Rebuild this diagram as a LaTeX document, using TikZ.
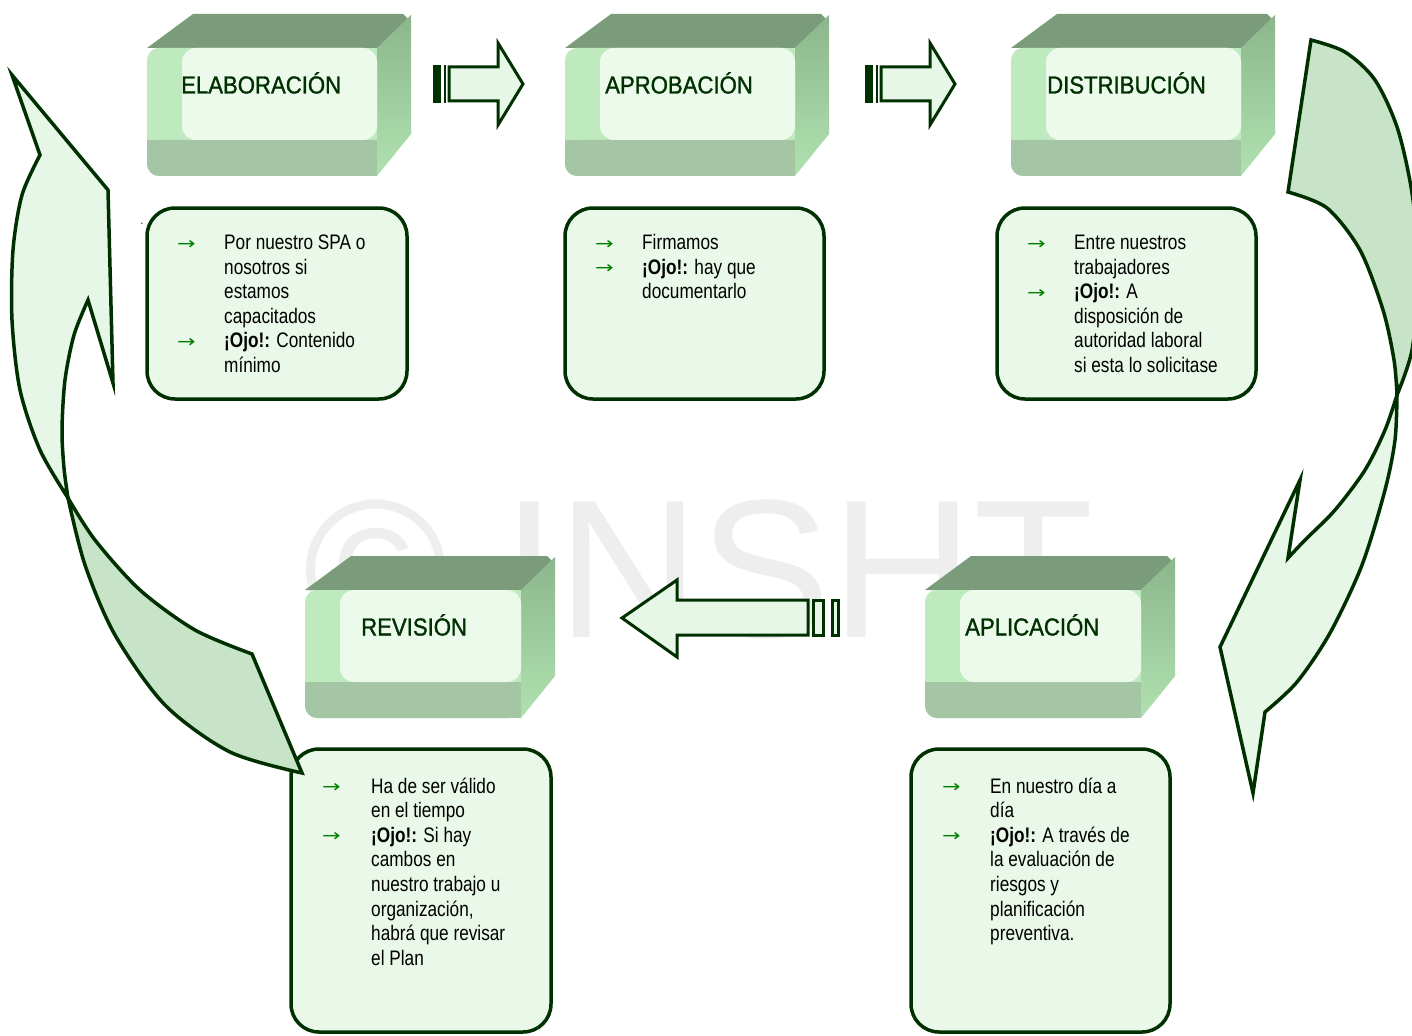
\documentclass[tikz,border=0pt]{standalone}
\usepackage{fontspec}
\setmainfont[FakeStretch=0.82]{Liberation Sans}
\newfontfamily\titlef[FakeStretch=0.9,FakeBold=1.2]{Liberation Sans}
\newfontfamily\wmfont{Liberation Sans}
\newfontfamily\symf{DejaVu Sans}
\definecolor{dkgreen}{RGB}{0,48,0}
\definecolor{outl}{RGB}{0,48,0}
\definecolor{bulg}{RGB}{0,128,0}
\definecolor{boxfill}{RGB}{233,248,233}
\definecolor{topface}{RGB}{123,156,123}
\definecolor{sidetop}{RGB}{140,182,140}
\definecolor{sideface}{RGB}{176,225,176}
\definecolor{leftstrip}{RGB}{190,234,190}
\definecolor{botstrip}{RGB}{165,198,165}
\definecolor{panel}{RGB}{236,250,236}
\definecolor{arrlight}{RGB}{231,247,231}
\definecolor{arrdark}{RGB}{200,228,200}
\definecolor{wmgray}{RGB}{238,238,238}
\tikzset{
  tbox/.style={draw=outl, line width=3.5pt, fill=boxfill, rounded corners=28pt},
  txt/.style={inner sep=0pt, font=\fontsize{21}{24.6}\selectfont, text=black},
  ttl/.style={inner sep=0pt, font=\titlef\fontsize{24.6}{28}\selectfont, text=dkgreen},
  blk/.style={draw=outl, line width=3pt, fill=arrlight, line join=miter},
  crv/.style={draw=outl, line width=3.5pt, line join=miter},
}
\newcommand{\bl}[1]{\makebox[#1][l]{\textcolor{bulg}{\symf\fontsize{17}{20}\selectfont\raisebox{0.5pt}{\scalebox{1.3}[1]{→}}}}}
% #1 name, #2 x, #3 y, #4 width, #5 text x, #6 text
\newcommand{\TitleBox}[6]{%
\begin{scope}[shift={(#2,#3)}]
  \fill[topface] (0,34) -- (46,0) -- ({#4-8},0) -- (#4,8) -- ({#4-34},34) -- cycle;
  \shade[top color=sidetop, bottom color=sideface] ({#4-34},34) -- (#4,1) -- (#4,120) -- ({#4-34},162) -- cycle;
  \fill[leftstrip, rounded corners=12pt] (0,34) rectangle ({#4-34},162);
  \fill[leftstrip] ({#4-60},34) rectangle ({#4-34},162);
  \fill[botstrip, rounded corners=12pt] (0,126) rectangle ({#4-34},162);
  \fill[botstrip] (0,126) rectangle ({#4-34},140);
  \fill[botstrip] ({#4-60},126) rectangle ({#4-34},162);
  \fill[panel, rounded corners=14pt] (35,34) rectangle ({#4-34},126);
  \node[ttl, anchor=base west] (#1) at ({#5-#2},79.5) {#6};
\end{scope}}
% #1 x0, #2 yc
\newcommand{\StripeArrowR}[2]{%
\begin{scope}[shift={(#1,#2)}]
  \fill[outl] (0,-19) rectangle (8,19);
  \fill[outl] (10.5,-19) rectangle (12.5,19);
  \path[blk] (16,-17) -- (65,-17) -- (65,-41) -- (90,0) -- (65,41) -- (65,17) -- (16,17) -- cycle;
\end{scope}}
\begin{document}
\begin{tikzpicture}[x=1pt,y=-1pt]
\useasboundingbox (0,0) rectangle (1412,1035);
\fill[white] (0,0) rectangle (1412,1035);
% watermark
\node[inner sep=0pt, anchor=base west, text=wmgray, font=\wmfont\fontsize{197}{200}\selectfont] (wm) at (303,637) {© INSHT};

% title boxes
\TitleBox{elab}{147}{14}{264}{181}{ELABORACIÓN}
\TitleBox{aprob}{565}{14}{264}{605}{APROBACIÓN}
\TitleBox{distr}{1011}{14}{264}{1047}{DISTRIBUCIÓN}
\TitleBox{revis}{305}{556}{250}{361}{REVISIÓN}
\TitleBox{aplic}{925}{556}{250}{965}{APLICACIÓN}

% text boxes
\draw[tbox] (147,208) rectangle (407,399);
\draw[tbox] (565,208) rectangle (824,399);
\draw[tbox] (997,208) rectangle (1256,399);
\draw[tbox] (291,749) rectangle (551,1032);
\draw[tbox] (911,749) rectangle (1170,1032);

\node[inner sep=0pt, font=\fontsize{12}{14}\selectfont] (dot) at (142,224) {.};

\node[txt, anchor=base west] (t1) at (177,249.5) {\begin{tabular}[t]{@{}l@{}l@{}}
\bl{47pt} & Por nuestro SPA o\\
 & nosotros si\\
 & estamos\\
 & capacitados\\
\bl{47pt} & \textbf{¡Ojo!:} Contenido\\
 & mínimo
\end{tabular}};

\node[txt, anchor=base west] (t2) at (595,249.5) {\begin{tabular}[t]{@{}l@{}l@{}}
\bl{47pt} & Firmamos\\
\bl{47pt} & \textbf{¡Ojo!:} hay que\\
 & documentarlo
\end{tabular}};

\node[txt, anchor=base west] (t3) at (1027,249.5) {\begin{tabular}[t]{@{}l@{}l@{}}
\bl{47pt} & Entre nuestros\\
 & trabajadores\\
\bl{47pt} & \textbf{¡Ojo!:} A\\
 & disposición de\\
 & autoridad laboral\\
 & si esta lo solicitase
\end{tabular}};

\node[txt, anchor=base west] (t4) at (322,793) {\begin{tabular}[t]{@{}l@{}l@{}}
\bl{49pt} & Ha de ser válido\\
 & en el tiempo\\
\bl{49pt} & \textbf{¡Ojo!:} Si hay\\
 & cambos en\\
 & nuestro trabajo u\\
 & organización,\\
 & habrá que revisar\\
 & el Plan
\end{tabular}};

\node[txt, anchor=base west] (t5) at (942,793) {\begin{tabular}[t]{@{}l@{}l@{}}
\bl{48pt} & En nuestro día a\\
 & día\\
\bl{48pt} & \textbf{¡Ojo!:} A través de\\
 & la evaluación de\\
 & riesgos y\\
 & planificación\\
 & preventiva.
\end{tabular}};

% straight block arrows
\StripeArrowR{433}{84}
\StripeArrowR{865}{84}
\path[blk] (622,618) -- (677,580) -- (677,600) -- (808,600) -- (808,635) -- (677,635) -- (677,657) -- cycle;
\path[blk] (813,600) rectangle (823,635);
\path[blk] (832,600) rectangle (838,635);

% right curved arrow
\path[crv, fill=arrdark] plot[smooth] coordinates {(1311,40) (1345,52) (1375,80) (1398,130) (1413,200) (1418,280) (1412,350) (1397,395)}
  -- plot[smooth] coordinates {(1397,395) (1394,360) (1383,310) (1360,250) (1327,208) (1288,192)} -- cycle;
\path[crv, fill=arrlight] plot[smooth] coordinates {(1397,395) (1385,430) (1365,470) (1335,510) (1305,540) (1288,558)}
  -- (1300,480) -- (1220,647) -- (1253,793) -- (1265,712)
  -- plot[smooth] coordinates {(1265,712) (1297,682) (1330,633) (1362,565) (1385,490) (1395,440) (1397,395)} -- cycle;

% left curved arrow
\path[crv, fill=arrlight] plot[smooth] coordinates {(68,498) (64,468) (62,430) (65,380) (74,335) (88,300)}
  -- (113,383) -- (108,190) -- (12,75) -- (40,155)
  -- plot[smooth] coordinates {(40,155) (22,195) (13,250) (12,320) (20,390) (40,450) (68,498)} -- cycle;
\path[crv, fill=arrdark] plot[smooth] coordinates {(68,498) (95,540) (140,590) (195,630) (252,654)}
  -- (302,773) -- plot[smooth] coordinates {(302,773) (230,752) (165,705) (115,635) (85,565) (68,498)} -- cycle;
\end{tikzpicture}
\end{document}
